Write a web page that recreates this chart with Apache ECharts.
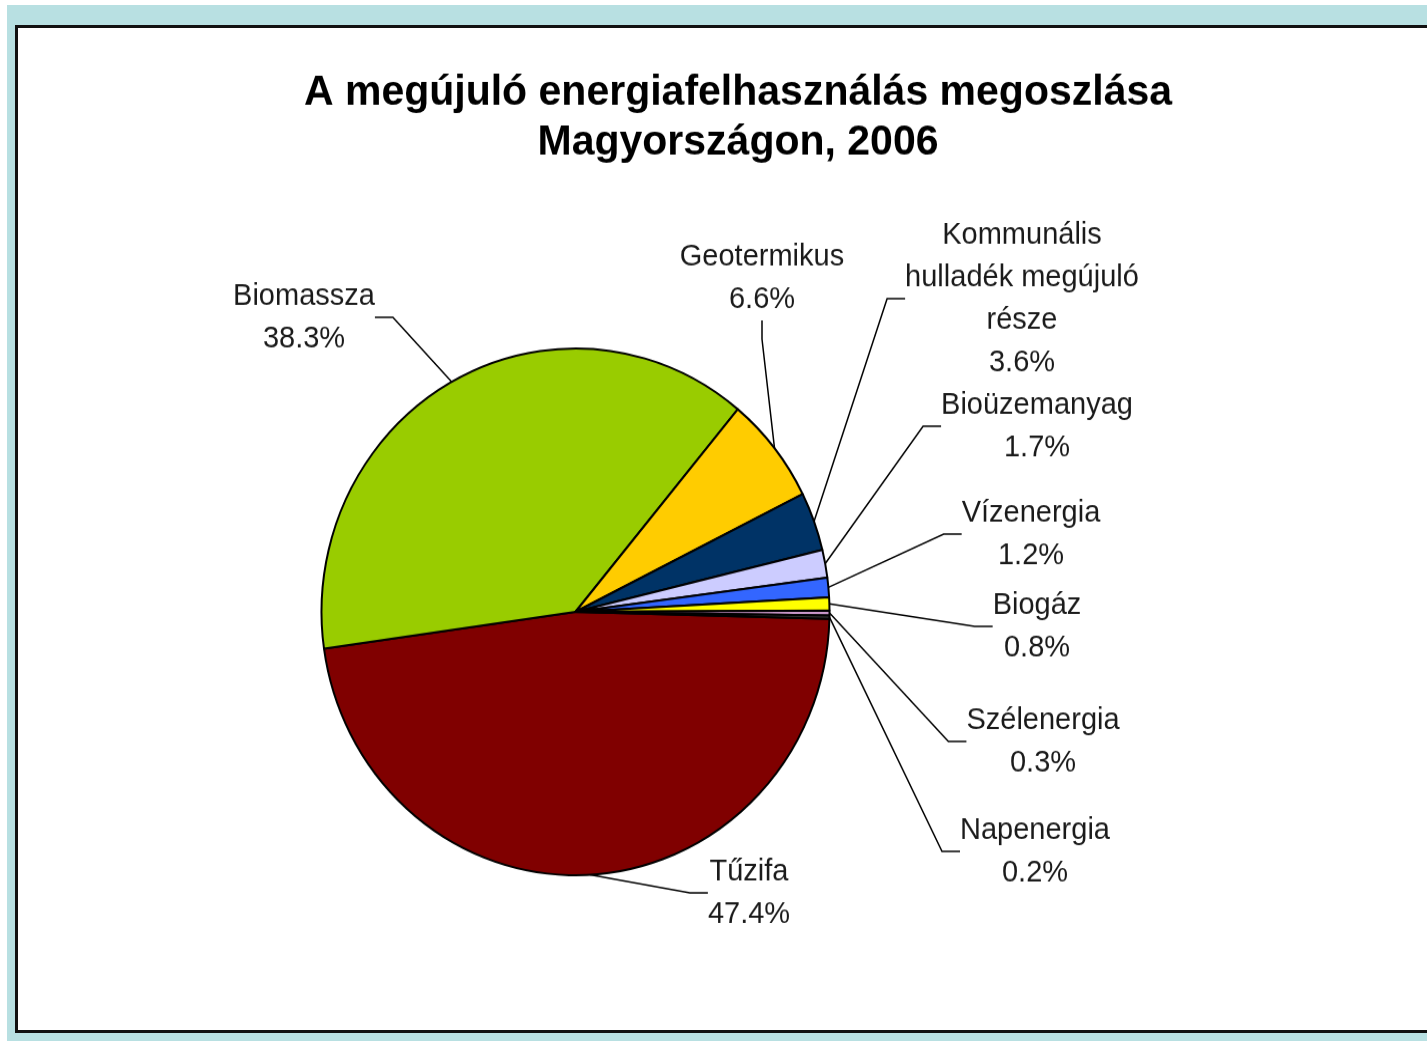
<!DOCTYPE html>
<html>
<head>
<meta charset="utf-8">
<script src="https://cdn.jsdelivr.net/npm/echarts@6/dist/echarts.min.js"></script>
<style>
  html, body { margin: 0; padding: 0; background: #fff; overflow: hidden; }
  .frame-outer { position: absolute; left: 7px; top: 5px; width: 1430px; height: 1036px; background: #b8e0e2; }
  .frame-inner { position: absolute; left: 15px; top: 25px; width: 1440px; height: 1002px; background: #fff; border: 3px solid #111; }
  /* az eredeti ábra kissé függőlegesen nyújtott */
  #chart { position: absolute; left: 0; top: 0; width: 1427px; height: 1004px; transform: scaleY(1.037); transform-origin: 0 0; }
</style>
</head>
<body>
<div class="frame-outer"></div>
<div class="frame-inner"></div>
<div id="chart"></div>
<script>
// kategóriák és értékek (%)
const categories = ['Tűzifa', 'Biomassza', 'Geotermikus', 'Kommunális\nhulladék megújuló\nrésze',
  'Bioüzemanyag', 'Vízenergia', 'Biogáz', 'Szélenergia', 'Napenergia'];
const shares = [47.4, 38.3, 6.6, 3.6, 1.7, 1.2, 0.8, 0.3, 0.2];
const sliceColors = ['#800000', '#99cc00', '#ffcc00', '#003366', '#ccccff', '#3366ff', '#ffff00', '#cc99cc', '#333333'];

// címkék helye (középpont, nyújtás előtti koordináták)
const labelSpots = [
  [749, 861], [304, 306], [762, 268], [1022, 288], [1037, 411],
  [1031, 515], [1037, 604], [1043, 715], [1035, 821]
];

const chart = echarts.init(document.getElementById('chart'));

chart.setOption({
  animation: false,
  title: {
    text: 'A megújuló energiafelhasználás megoszlása\nMagyországon, 2006',
    left: 733,
    top: 61,
    textAlign: 'center',
    textStyle: {
      fontFamily: 'Liberation Sans',
      fontWeight: 'bold',
      fontSize: 41,
      lineHeight: 48,
      color: '#000'
    }
  },
  color: sliceColors,
  series: [{
    type: 'pie',
    center: [575.5, 590],
    radius: 254,
    startAngle: -1.5,
    clockwise: true,
    avoidLabelOverlap: false,
    itemStyle: { borderColor: '#000', borderWidth: 2 },
    label: {
      show: true,
      formatter: p => p.name + '\n' + p.value.toFixed(1) + '%',
      fontFamily: 'Liberation Sans',
      fontSize: 29,
      lineHeight: 41,
      color: '#1a1a1a',
      align: 'center'
    },
    labelLine: {
      show: true,
      length: 20,
      length2: 18,
      lineStyle: { color: '#000', width: 1.5 }
    },
    labelLayout: function (params) {
      const s = labelSpots[params.dataIndex];
      return { x: s[0], y: s[1], align: 'center', verticalAlign: 'middle' };
    },
    data: categories.map((name, i) => ({ name: name, value: shares[i] }))
  }]
});
</script>
</body>
</html>
